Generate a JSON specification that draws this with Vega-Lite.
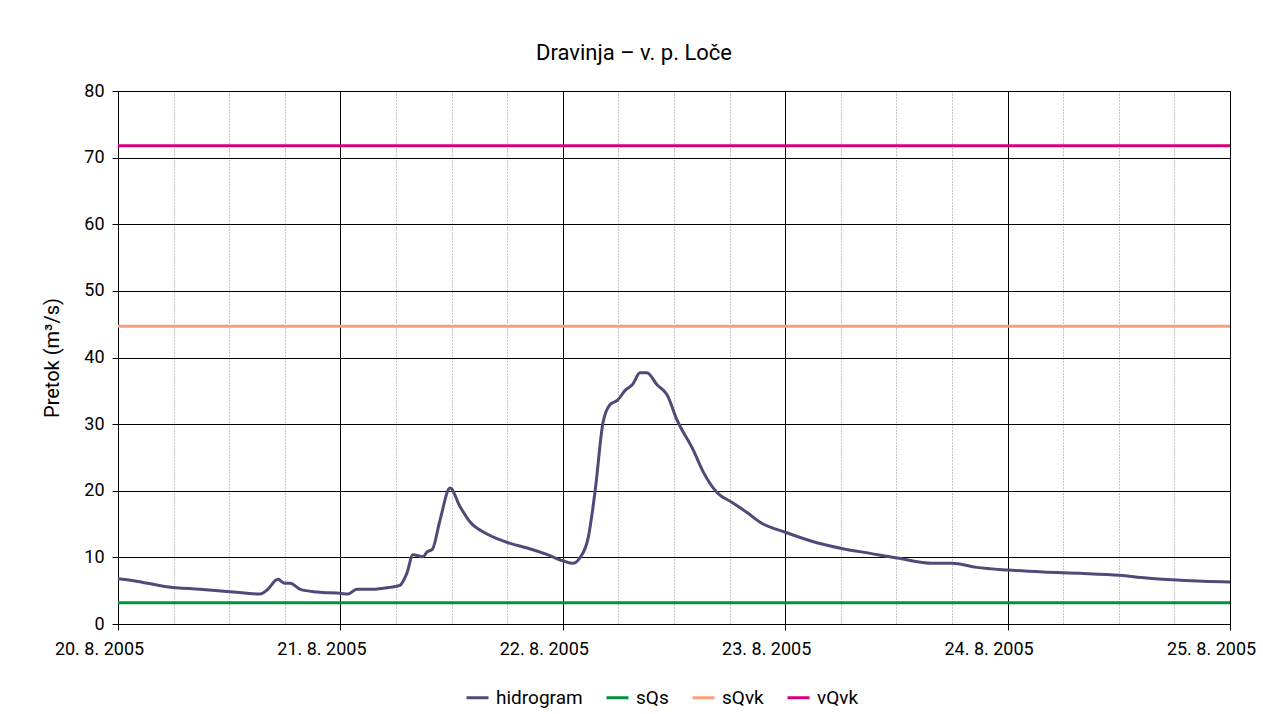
{
  "$schema": "https://vega.github.io/schema/vega-lite/v6.json",
  "width": 1112,
  "height": 533,
  "autosize": {"type": "none"},
  "padding": {"left": 118, "top": 91, "right": 33, "bottom": 90},
  "background": "white",
  "title": {"text": "Dravinja – v. p. Loče", "fontSize": 22, "fontWeight": "normal", "anchor": "middle", "dx": -40, "offset": 17, "color": "#000", "font": "Roboto"},
  "config": {
    "font": "Roboto",
    "view": {"stroke": "#000", "strokeWidth": 1}
  },
  "resolve": {"axis": {"x": "independent"}},
  "datasets": {
    "hydro": [
      {"series": "hidrogram", "t": "2005-08-20T00:00", "q": 6.8},
      {"series": "hidrogram", "t": "2005-08-20T01:40", "q": 6.5},
      {"series": "hidrogram", "t": "2005-08-20T05:15", "q": 5.6},
      {"series": "hidrogram", "t": "2005-08-20T08:50", "q": 5.2},
      {"series": "hidrogram", "t": "2005-08-20T12:25", "q": 4.8},
      {"series": "hidrogram", "t": "2005-08-20T15:20", "q": 4.5},
      {"series": "hidrogram", "t": "2005-08-20T16:05", "q": 5.1},
      {"series": "hidrogram", "t": "2005-08-20T17:15", "q": 6.7},
      {"series": "hidrogram", "t": "2005-08-20T18:00", "q": 6.1},
      {"series": "hidrogram", "t": "2005-08-20T18:35", "q": 6.1},
      {"series": "hidrogram", "t": "2005-08-20T19:40", "q": 5.2},
      {"series": "hidrogram", "t": "2005-08-20T21:30", "q": 4.8},
      {"series": "hidrogram", "t": "2005-08-21T00:00", "q": 4.6},
      {"series": "hidrogram", "t": "2005-08-21T00:50", "q": 4.5},
      {"series": "hidrogram", "t": "2005-08-21T01:45", "q": 5.2},
      {"series": "hidrogram", "t": "2005-08-21T03:30", "q": 5.2},
      {"series": "hidrogram", "t": "2005-08-21T05:20", "q": 5.5},
      {"series": "hidrogram", "t": "2005-08-21T06:25", "q": 5.8},
      {"series": "hidrogram", "t": "2005-08-21T07:10", "q": 7.6},
      {"series": "hidrogram", "t": "2005-08-21T07:50", "q": 10.4},
      {"series": "hidrogram", "t": "2005-08-21T08:55", "q": 10.1},
      {"series": "hidrogram", "t": "2005-08-21T09:20", "q": 10.8},
      {"series": "hidrogram", "t": "2005-08-21T09:55", "q": 11.2},
      {"series": "hidrogram", "t": "2005-08-21T10:45", "q": 15.6},
      {"series": "hidrogram", "t": "2005-08-21T11:50", "q": 20.4},
      {"series": "hidrogram", "t": "2005-08-21T12:55", "q": 17.6},
      {"series": "hidrogram", "t": "2005-08-21T14:00", "q": 15.3},
      {"series": "hidrogram", "t": "2005-08-21T15:50", "q": 13.5},
      {"series": "hidrogram", "t": "2005-08-21T18:20", "q": 12.1},
      {"series": "hidrogram", "t": "2005-08-21T20:10", "q": 11.4},
      {"series": "hidrogram", "t": "2005-08-21T22:20", "q": 10.4},
      {"series": "hidrogram", "t": "2005-08-22T00:00", "q": 9.5},
      {"series": "hidrogram", "t": "2005-08-22T01:05", "q": 9.1},
      {"series": "hidrogram", "t": "2005-08-22T01:50", "q": 9.9},
      {"series": "hidrogram", "t": "2005-08-22T02:45", "q": 13.0},
      {"series": "hidrogram", "t": "2005-08-22T03:30", "q": 20.1},
      {"series": "hidrogram", "t": "2005-08-22T04:20", "q": 30.2},
      {"series": "hidrogram", "t": "2005-08-22T05:05", "q": 32.9},
      {"series": "hidrogram", "t": "2005-08-22T05:55", "q": 33.6},
      {"series": "hidrogram", "t": "2005-08-22T06:45", "q": 35.1},
      {"series": "hidrogram", "t": "2005-08-22T07:30", "q": 35.9},
      {"series": "hidrogram", "t": "2005-08-22T08:20", "q": 37.7},
      {"series": "hidrogram", "t": "2005-08-22T09:05", "q": 37.7},
      {"series": "hidrogram", "t": "2005-08-22T10:10", "q": 35.9},
      {"series": "hidrogram", "t": "2005-08-22T11:15", "q": 34.4},
      {"series": "hidrogram", "t": "2005-08-22T12:20", "q": 30.6},
      {"series": "hidrogram", "t": "2005-08-22T14:05", "q": 26.1},
      {"series": "hidrogram", "t": "2005-08-22T15:10", "q": 22.8},
      {"series": "hidrogram", "t": "2005-08-22T16:40", "q": 19.7},
      {"series": "hidrogram", "t": "2005-08-22T18:20", "q": 18.2},
      {"series": "hidrogram", "t": "2005-08-22T19:55", "q": 16.7},
      {"series": "hidrogram", "t": "2005-08-22T21:15", "q": 15.3},
      {"series": "hidrogram", "t": "2005-08-23T00:10", "q": 13.7},
      {"series": "hidrogram", "t": "2005-08-23T03:25", "q": 12.2},
      {"series": "hidrogram", "t": "2005-08-23T06:15", "q": 11.3},
      {"series": "hidrogram", "t": "2005-08-23T09:10", "q": 10.6},
      {"series": "hidrogram", "t": "2005-08-23T12:05", "q": 9.9},
      {"series": "hidrogram", "t": "2005-08-23T15:55", "q": 9.1},
      {"series": "hidrogram", "t": "2005-08-23T18:00", "q": 9.1},
      {"series": "hidrogram", "t": "2005-08-23T20:40", "q": 8.5},
      {"series": "hidrogram", "t": "2005-08-24T00:00", "q": 8.1},
      {"series": "hidrogram", "t": "2005-08-24T03:50", "q": 7.8},
      {"series": "hidrogram", "t": "2005-08-24T07:50", "q": 7.6},
      {"series": "hidrogram", "t": "2005-08-24T12:05", "q": 7.3},
      {"series": "hidrogram", "t": "2005-08-24T15:00", "q": 6.9},
      {"series": "hidrogram", "t": "2005-08-24T18:15", "q": 6.6},
      {"series": "hidrogram", "t": "2005-08-24T21:05", "q": 6.4},
      {"series": "hidrogram", "t": "2005-08-25T00:00", "q": 6.3}
    ],
    "levels": [
      {"series": "sQs", "q": 3.2},
      {"series": "sQvk", "q": 44.7},
      {"series": "vQvk", "q": 71.8}
    ]
  },
  "layer": [
    {
      "data": {"name": "hydro"},
      "mark": {"type": "line", "strokeOpacity": 0},
      "encoding": {
        "x": {
          "field": "t", "type": "temporal",
          "axis": {
            "orient": "bottom",
            "title": null,
            "values": [
              {"year": 2005, "month": 8, "date": 20, "hours": 6},
              {"year": 2005, "month": 8, "date": 20, "hours": 12},
              {"year": 2005, "month": 8, "date": 20, "hours": 18},
              {"year": 2005, "month": 8, "date": 21, "hours": 6},
              {"year": 2005, "month": 8, "date": 21, "hours": 12},
              {"year": 2005, "month": 8, "date": 21, "hours": 18},
              {"year": 2005, "month": 8, "date": 22, "hours": 6},
              {"year": 2005, "month": 8, "date": 22, "hours": 12},
              {"year": 2005, "month": 8, "date": 22, "hours": 18},
              {"year": 2005, "month": 8, "date": 23, "hours": 6},
              {"year": 2005, "month": 8, "date": 23, "hours": 12},
              {"year": 2005, "month": 8, "date": 23, "hours": 18},
              {"year": 2005, "month": 8, "date": 24, "hours": 6},
              {"year": 2005, "month": 8, "date": 24, "hours": 12},
              {"year": 2005, "month": 8, "date": 24, "hours": 18}
            ],
            "labels": false, "ticks": false, "domain": false,
            "grid": true, "gridColor": "#8a8a8a", "gridDash": [1, 2], "gridOpacity": 1
          }
        },
        "y": {"field": "q", "type": "quantitative"}
      }
    },
    {
      "data": {"name": "hydro"},
      "mark": {"type": "line", "strokeWidth": 3, "interpolate": "monotone"},
      "encoding": {
        "x": {
          "field": "t", "type": "temporal",
          "scale": {"domain": [{"year": 2005, "month": 8, "date": 20}, {"year": 2005, "month": 8, "date": 25}], "nice": false},
          "axis": {
            "orient": "bottom",
            "title": null,
            "values": [
              {"year": 2005, "month": 8, "date": 20},
              {"year": 2005, "month": 8, "date": 21},
              {"year": 2005, "month": 8, "date": 22},
              {"year": 2005, "month": 8, "date": 23},
              {"year": 2005, "month": 8, "date": 24},
              {"year": 2005, "month": 8, "date": 25}
            ],
            "format": "%-d. %-m. %Y",
            "labelFontSize": 18, "labelColor": "#000", "labelPadding": 10, "labelOffset": -19, "labelFlush": false, "labelOverlap": false,
            "domainColor": "#000",
            "tickSize": 6, "tickColor": "#000",
            "grid": true, "gridColor": "#000", "gridOpacity": 1
          }
        },
        "y": {
          "field": "q", "type": "quantitative",
          "scale": {"domain": [0, 80], "nice": false},
          "axis": {
            "title": "Pretok (m³/s)", "titleFontSize": 20, "titleFontWeight": "normal", "titleColor": "#000", "titlePadding": 21,
            "values": [0, 10, 20, 30, 40, 50, 60, 70, 80],
            "labelFontSize": 18, "labelColor": "#000", "labelPadding": 8,
            "tickSize": 6, "tickColor": "#000", "domainColor": "#000",
            "grid": true, "gridColor": "#000", "gridOpacity": 1
          }
        },
        "color": {
          "field": "series", "type": "nominal",
          "scale": {"domain": ["hidrogram", "sQs", "sQvk", "vQvk"], "range": ["#4f4a78", "#00923f", "#f4a07c", "#d5007d"]},
          "legend": {
            "title": null, "orient": "none", "direction": "horizontal", "legendX": 347, "legendY": 594,
            "symbolType": "stroke", "symbolStrokeWidth": 3, "symbolSize": 484,
            "labelFontSize": 19, "labelColor": "#000", "columnPadding": 17, "labelOffset": 6
          }
        }
      }
    },
    {
      "data": {"name": "levels"},
      "mark": {"type": "rule", "strokeWidth": 3},
      "encoding": {
        "y": {"field": "q", "type": "quantitative"},
        "color": {"field": "series", "type": "nominal"}
      }
    }
  ]
}
